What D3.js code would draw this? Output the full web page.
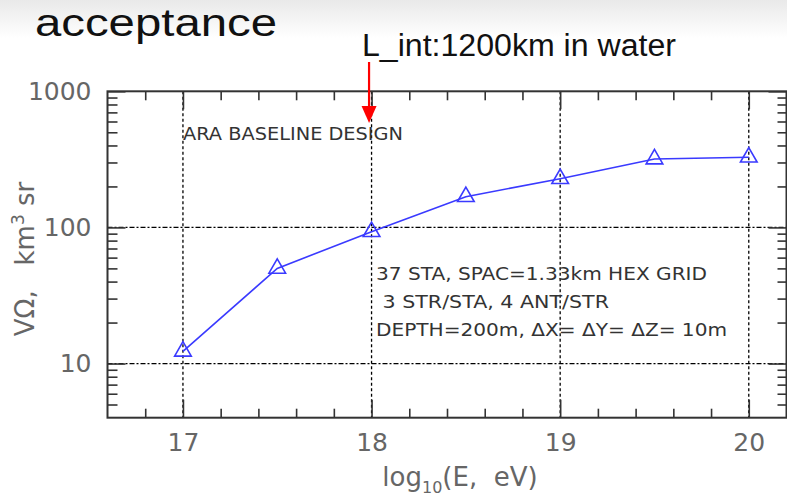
<!DOCTYPE html>
<html>
<head>
<meta charset="utf-8">
<script src="https://cdn.jsdelivr.net/npm/d3@7"></script>
<style>
  body { margin: 0; background: #fff; }
  svg { display: block; }
</style>
</head>
<body>
<svg id="chart" width="787" height="499"></svg>
<script>
// Acceptance VΩ (km^3 sr) versus log10 of neutrino energy
const logEnergy = [17, 17.5, 18, 18.5, 19, 19.5, 20];
const acceptance = [12.3, 50, 93, 168, 228, 318, 328];
const xMajorTicks = [17, 18, 19, 20];
const yMajorTicks = [10, 100, 1000];
const yGridValues = [10, 100];
const designNotes = [
  "37 STA, SPAC=1.33km HEX GRID",
  " 3 STR/STA, 4 ANT/STR",
  "DEPTH=200m, \u0394X= \u0394Y= \u0394Z= 10m"
];
const markedEnergy = 18;

const svg = d3.select("#chart");
const W = 787, H = 499;
const plotLeft = 107.5, plotRight = 786.5, plotTop = 91.3, plotBottom = 417.7;

// slide header band
const defs = svg.append("defs");
const grad = defs.append("linearGradient").attr("id", "band").attr("x1", 0).attr("y1", 0).attr("x2", 0).attr("y2", 1);
grad.append("stop").attr("offset", "0%").attr("stop-color", "#e9e9e9");
grad.append("stop").attr("offset", "100%").attr("stop-color", "#ffffff");
svg.append("rect").attr("x", 0).attr("y", 0).attr("width", W).attr("height", 38).attr("fill", "url(#band)");

svg.append("text")
  .attr("x", 35).attr("y", 36)
  .attr("font-family", "Liberation Sans, Arial, sans-serif")
  .attr("font-size", 38)
  .attr("textLength", 242).attr("lengthAdjust", "spacingAndGlyphs")
  .attr("fill", "#111")
  .text("acceptance");

const x = d3.scaleLinear().domain([16.6, 20.2]).range([plotLeft, plotRight]);
const y = d3.scaleLog().domain([4, 1000]).range([plotBottom, plotTop]);

const xMinor = d3.range(16.8, 20.2, 0.2).map(v => +v.toFixed(1)).filter(v => Math.abs(v - Math.round(v)) > 1e-6);
const yMinor = [];
[1, 10, 100].forEach(d => { for (let k = 2; k <= 9; k++) { const v = k * d; if (v > 4 && v < 1000) yMinor.push(v); } });

const tickFont = "DejaVu Sans, Verdana, sans-serif";
const inkGray = "#666";

function styleAxis(g) {
  g.select(".domain").remove();
  g.selectAll(".tick line").attr("stroke", "#333").attr("stroke-width", 1.6);
  g.selectAll(".tick text").attr("font-family", tickFont).attr("font-size", 25).attr("fill", inkGray);
}

// grid lines
const grid = svg.append("g").attr("stroke", "#000").attr("stroke-width", 1.3).attr("fill", "none");
grid.selectAll("line.vg").data(xMajorTicks).join("line")
  .attr("class", "vg")
  .attr("x1", d => x(d)).attr("x2", d => x(d))
  .attr("y1", plotTop).attr("y2", plotBottom)
  .attr("stroke-dasharray", "3,2.5");
grid.selectAll("line.hg").data(yGridValues).join("line")
  .attr("class", "hg")
  .attr("x1", plotLeft).attr("x2", plotRight)
  .attr("y1", d => y(d)).attr("y2", d => y(d))
  .attr("stroke-dasharray", "5,2,2,2");

// bottom axis
svg.append("g").attr("transform", `translate(0,${plotBottom})`)
  .call(d3.axisBottom(x).tickValues(xMajorTicks).tickSize(-18).tickPadding(16).tickFormat(d3.format("d")))
  .call(styleAxis);
svg.append("g").attr("transform", `translate(0,${plotBottom})`)
  .call(d3.axisBottom(x).tickValues(xMinor).tickSize(-9).tickFormat(""))
  .call(styleAxis);
// top axis
svg.append("g").attr("transform", `translate(0,${plotTop})`)
  .call(d3.axisTop(x).tickValues(xMajorTicks).tickSize(-18).tickFormat(""))
  .call(styleAxis);
svg.append("g").attr("transform", `translate(0,${plotTop})`)
  .call(d3.axisTop(x).tickValues(xMinor).tickSize(-9).tickFormat(""))
  .call(styleAxis);
// left axis
svg.append("g").attr("transform", `translate(${plotLeft},0)`)
  .call(d3.axisLeft(y).tickValues(yMajorTicks).tickSize(-18).tickPadding(16).tickFormat(d3.format("d")))
  .call(styleAxis);
svg.append("g").attr("transform", `translate(${plotLeft},0)`)
  .call(d3.axisLeft(y).tickValues(yMinor).tickSize(-10).tickFormat(""))
  .call(styleAxis);
// right axis
svg.append("g").attr("transform", `translate(${plotRight},0)`)
  .call(d3.axisRight(y).tickValues(yMajorTicks).tickSize(-18).tickFormat(""))
  .call(styleAxis);
svg.append("g").attr("transform", `translate(${plotRight},0)`)
  .call(d3.axisRight(y).tickValues(yMinor).tickSize(-9).tickFormat(""))
  .call(styleAxis);

// frame
svg.append("rect")
  .attr("x", plotLeft).attr("y", plotTop)
  .attr("width", plotRight - plotLeft).attr("height", plotBottom - plotTop)
  .attr("fill", "none").attr("stroke", "#333").attr("stroke-width", 2);

// axis titles
const yTitle = svg.append("text")
  .attr("transform", `translate(34,259) rotate(-90)`)
  .attr("text-anchor", "middle")
  .attr("font-family", tickFont).attr("font-size", 26).attr("fill", inkGray)
  .style("white-space", "pre");
yTitle.append("tspan").text("V\u03A9,   km");
yTitle.append("tspan").attr("dy", -10).attr("font-size", 17).text("3");
yTitle.append("tspan").attr("dy", 10).text(" sr");

const xTitle = svg.append("text")
  .attr("x", 460).attr("y", 486)
  .attr("text-anchor", "middle")
  .attr("font-family", tickFont).attr("font-size", 26).attr("fill", inkGray)
  .style("white-space", "pre");
xTitle.append("tspan").text("log");
xTitle.append("tspan").attr("dy", 7).attr("font-size", 16).text("10");
xTitle.append("tspan").attr("dy", -7).text("(E,  eV)");

// labels inside plot
svg.append("text")
  .attr("x", 183).attr("y", 139.5)
  .attr("font-family", tickFont).attr("font-size", 17.5).attr("fill", "#333")
  .attr("textLength", 220).attr("lengthAdjust", "spacingAndGlyphs")
  .text("ARA BASELINE DESIGN");

const noteLengths = [331, 233, 351];
svg.append("g").selectAll("text").data(designNotes).join("text")
  .attr("x", 376).attr("y", (d, i) => 280 + i * 28)
  .attr("font-family", tickFont).attr("font-size", 17.5).attr("fill", "#333")
  .style("white-space", "pre")
  .attr("textLength", (d, i) => noteLengths[i]).attr("lengthAdjust", "spacingAndGlyphs")
  .text(d => d);

// acceptance curve
const blue = "#3a3aff";
const pts = logEnergy.map((e, i) => [x(e), y(acceptance[i])]);
svg.append("path")
  .attr("d", d3.line()(pts))
  .attr("fill", "none").attr("stroke", blue).attr("stroke-width", 1.6);
const tri = d3.symbol().type(d3.symbolTriangle).size(120);
svg.append("g").selectAll("path").data(pts).join("path")
  .attr("transform", d => `translate(${d[0]},${d[1]})`)
  .attr("d", tri)
  .attr("fill", "none").attr("stroke", blue).attr("stroke-width", 1.6);

// interaction-length marker
const ax = x(markedEnergy) - 2.5;
svg.append("line")
  .attr("x1", ax).attr("x2", ax).attr("y1", 62).attr("y2", 108)
  .attr("stroke", "#ff0000").attr("stroke-width", 2.2);
svg.append("path")
  .attr("d", `M${ax - 7.5},106 L${ax + 7.5},106 L${ax},123 Z`)
  .attr("fill", "#ff0000");
svg.append("text")
  .attr("x", 362).attr("y", 56)
  .attr("font-family", "Liberation Sans, Arial, sans-serif")
  .attr("font-size", 31)
  .attr("textLength", 314).attr("lengthAdjust", "spacingAndGlyphs")
  .attr("fill", "#111")
  .text("L_int:1200km in water");
</script>
</body>
</html>
